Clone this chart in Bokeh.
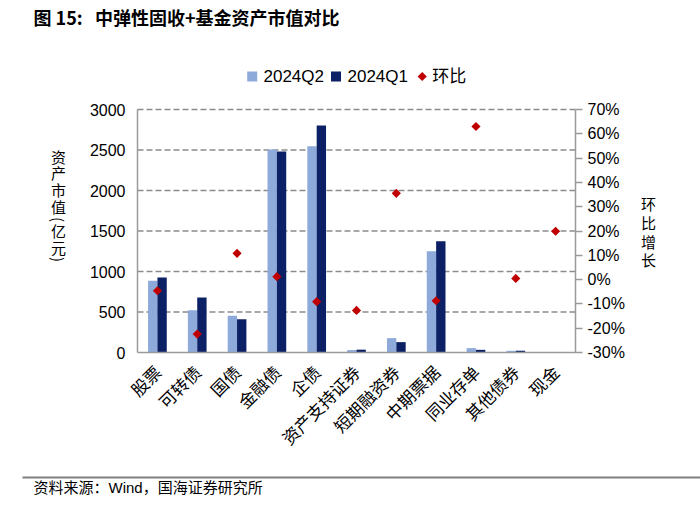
import math
from bokeh.plotting import figure
from bokeh.models import (Range1d, LinearAxis, FixedTicker, NumeralTickFormatter,
                          ColumnDataSource, Label)
from bokeh.transform import dodge
from bokeh.embed import file_html
from bokeh.resources import INLINE

# ---------------- data ----------------
categories = ["股票", "可转债", "国债", "金融债", "企债", "资产支持证券",
              "短期融资券", "中期票据", "同业存单", "其他债券", "现金"]
value_2024q2 = [886, 523, 453, 2505, 2547, 30, 177, 1249, 54, 21, 0]     # 亿元
value_2024q1 = [927, 680, 412, 2481, 2802, 35, 128, 1372, 33, 22, 0]     # 亿元
qoq_pct = [-4.6, -22.4, 10.8, 1.2, -9.1, -12.7, 35.5, -8.7, 63.0, 0.5, 19.9]  # %
left_ticks = [0, 500, 1000, 1500, 2000, 2500, 3000]
right_ticks_pct = [-30, -20, -10, 0, 10, 20, 30, 40, 50, 60, 70]
series_names = ["2024Q2", "2024Q1", "环比"]

title_text = "图 15:\u00a0\u00a0\u00a0中弹性固收+基金资产市值对比"
source_text = "资料来源：Wind，国海证券研究所"
left_title_chars = ["资", "产", "市", "值", "(", "亿", "元", ")"]
right_title_chars = ["环", "比", "增", "长"]

# ---------------- geometry (pixels) ----------------
W, H = 700, 513
FL, FR, FT, FB = 137, 575, 109, 352          # plot area edges
NC = len(categories)
YMIN, YMAX = left_ticks[0], left_ticks[-1]
PMIN, PMAX = right_ticks_pct[0] / 100, right_ticks_pct[-1] / 100

ux = NC / (FR - FL)
uy = (YMAX - YMIN) / (FB - FT)
up = (PMAX - PMIN) / (FB - FT)
x_start, x_end = -FL * ux, NC + (W - FR) * ux
y_start, y_end = YMIN - (H - FB) * uy, YMAX + FT * uy
p_start, p_end = PMIN - (H - FB) * up, PMAX + FT * up


def X(px):
    return x_start + px * ux


def Y(py):
    return y_end - py * uy


CJK = "Noto Sans CJK SC"
LAT = "Liberation Sans, Noto Sans CJK SC"
C_Q2, C_Q1, C_QOQ = "#8EAADB", "#0C2065", "#C00000"
AXIS_C = "#9a9a9a"

p = figure(width=W, height=H, x_range=Range1d(x_start, x_end), y_range=Range1d(y_start, y_end),
           output_backend="svg", toolbar_location=None, title=None,
           x_axis_type=None, y_axis_type=None,
           min_border=0, min_border_left=0, min_border_right=0,
           min_border_top=0, min_border_bottom=0)
p.outline_line_color = None
p.background_fill_color = "white"
p.border_fill_color = "white"
p.grid.visible = False
p.extra_y_ranges = {"pct": Range1d(p_start, p_end)}

# ---------------- grid lines (dashed) ----------------
grid_vals = left_ticks[1:]
p.segment(x0=[0] * len(grid_vals), x1=[NC] * len(grid_vals), y0=grid_vals, y1=grid_vals,
          line_color="#8c8c8c", line_dash="6 3", line_width=1.3)

# ---------------- bars and markers ----------------
xc = [i + 0.5 for i in range(NC)]
src = ColumnDataSource(dict(xc=xc, q2=value_2024q2, q1=value_2024q1,
                            qoq=[v / 100 for v in qoq_pct]))
bw = 0.235
p.vbar(x=dodge("xc", -bw / 2), top="q2", width=bw, source=src, fill_color=C_Q2, line_color=None)
p.vbar(x=dodge("xc", bw / 2), top="q1", width=bw, source=src, fill_color=C_Q1, line_color=None)
p.scatter(x="xc", y="qoq", y_range_name="pct", source=src, marker="square",
          angle=math.pi / 4, size=6.5, fill_color=C_QOQ, line_color=None)

# ---------------- axes ----------------
xa = LinearAxis(ticker=FixedTicker(ticks=xc),
                major_label_overrides={t: c for t, c in zip(xc, categories)},
                fixed_location=YMIN, bounds=(0, NC))
xa.major_tick_out = 0
xa.major_tick_in = 0
xa.minor_tick_out = 0
xa.minor_tick_in = 0
xa.axis_line_color = AXIS_C
xa.axis_line_width = 1.5
xa.major_label_orientation = math.pi / 4
xa.major_label_standoff = 16
xa.major_label_text_font = CJK
xa.major_label_text_font_size = "17px"
xa.major_label_text_color = "black"
p.add_layout(xa, "below")

la = LinearAxis(ticker=FixedTicker(ticks=left_ticks), fixed_location=0, bounds=(YMIN, YMAX))
la.major_tick_out = 0
la.major_tick_in = 0
la.minor_tick_out = 0
la.minor_tick_in = 0
la.major_label_standoff = 12
la.axis_line_color = AXIS_C
la.axis_line_width = 1.5
la.major_label_text_font = LAT
la.major_label_text_font_size = "16px"
la.major_label_text_color = "black"
p.add_layout(la, "left")

ra = LinearAxis(y_range_name="pct", ticker=FixedTicker(ticks=[t / 100 for t in right_ticks_pct]),
                formatter=NumeralTickFormatter(format="0%"), fixed_location=NC,
                bounds=(PMIN, PMAX))
ra.major_tick_out = 7
ra.major_tick_in = 0
ra.minor_tick_out = 0
ra.minor_tick_in = 0
ra.major_tick_line_color = AXIS_C
ra.major_tick_line_width = 1.5
ra.major_label_standoff = 5
ra.axis_line_color = AXIS_C
ra.axis_line_width = 1.5
ra.major_label_text_font = LAT
ra.major_label_text_font_size = "16px"
ra.major_label_text_color = "black"
p.add_layout(ra, "right")

# ---------------- legend (swatches + labels) ----------------
LEG_Y = 76
p.scatter(x=[X(251.7)], y=[Y(LEG_Y)], marker="square", size=10, fill_color=C_Q2, line_color=None)
p.scatter(x=[X(335.5)], y=[Y(LEG_Y)], marker="square", size=10, fill_color=C_Q1, line_color=None)
p.scatter(x=[X(421.7)], y=[Y(LEG_Y)], marker="square", angle=math.pi / 4, size=6.5,
          fill_color=C_QOQ, line_color=None)
for name, lx in zip(series_names, [263, 347, 431.7]):
    p.add_layout(Label(x=X(lx), y=Y(LEG_Y), text=name, text_font=LAT, text_font_size="17px",
                       text_baseline="middle", text_align="left", text_color="black"))

# ---------------- titles ----------------
p.add_layout(Label(x=X(33), y=Y(16), text=title_text, text_font=CJK, text_font_style="bold",
                   text_font_size="18px", text_baseline="middle", text_align="left",
                   text_color="black"))

for ch, yy in zip(left_title_chars, [156, 172, 189, 206, 219, 230, 247, 259]):
    rot = -math.pi / 2 if ch in "()" else 0
    p.add_layout(Label(x=X(58), y=Y(yy), text=ch, angle=rot, text_font=CJK,
                       text_font_size="15px", text_baseline="middle", text_align="center",
                       text_color="black"))

for ch, yy in zip(right_title_chars, [203, 221.5, 240.5, 258.5]):
    p.add_layout(Label(x=X(648), y=Y(yy), text=ch, text_font=CJK, text_font_size="15px",
                       text_baseline="middle", text_align="center", text_color="black"))

# ---------------- footer ----------------
p.segment(x0=[X(22)], x1=[X(W)], y0=[Y(477)], y1=[Y(477)], line_color="#7f7f7f", line_width=2)
p.add_layout(Label(x=X(33), y=Y(487), text=source_text, text_font=LAT, text_font_size="15px",
                   text_baseline="middle", text_align="left", text_color="black"))

open("out.html", "w").write(file_html(p, INLINE))
